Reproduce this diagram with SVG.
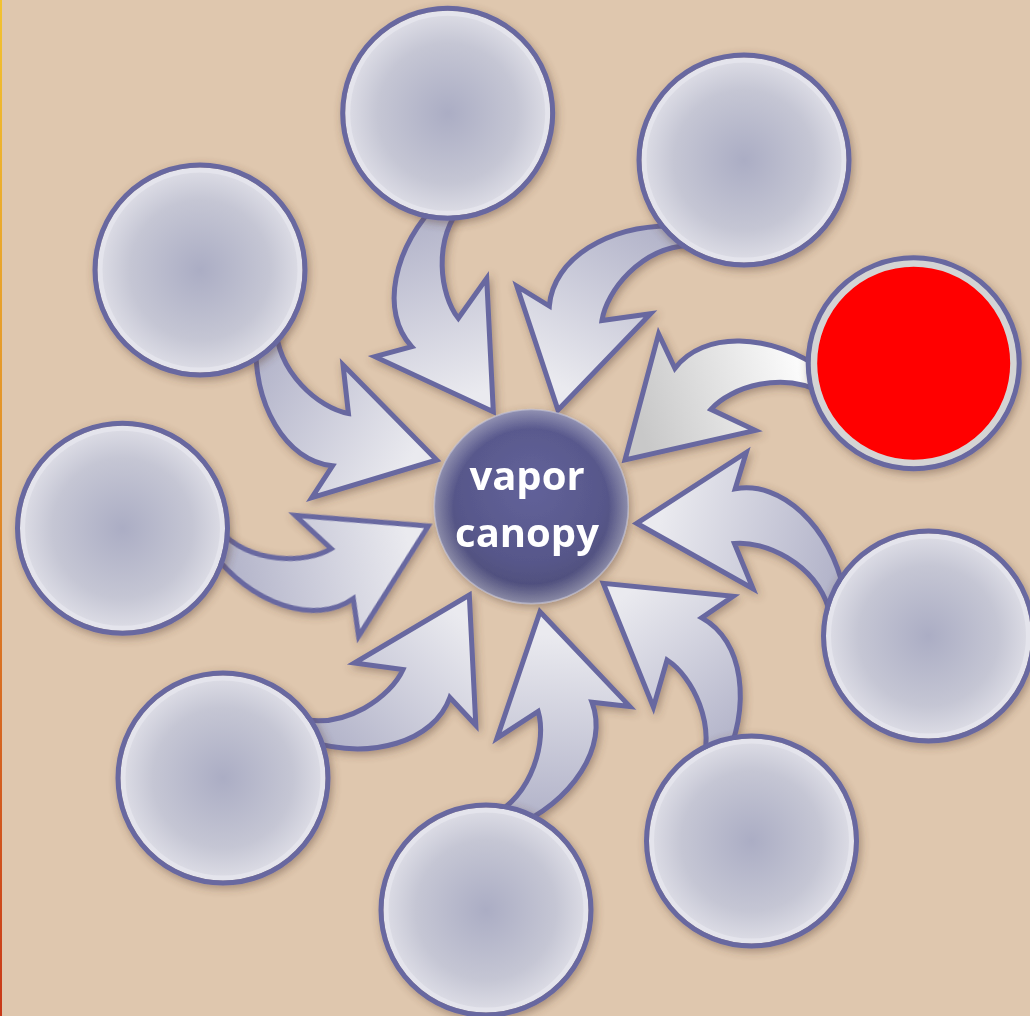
<svg xmlns="http://www.w3.org/2000/svg" width="1030" height="1016" viewBox="0 0 1030 1016">
<defs>
<style>
.arr{stroke:#6868a0;stroke-width:5;stroke-linejoin:miter;stroke-miterlimit:10}
.ring{fill:none;stroke:#6868a0;stroke-width:5}
.inner{stroke:#e4e4ec;stroke-width:5}
.lbl{font-family:"Open Sans","Liberation Sans",sans-serif;font-weight:bold;font-size:40px;fill:#ffffff;text-anchor:middle}
</style>
<linearGradient id="edge" x1="0" y1="0" x2="0" y2="1">
<stop offset="0" stop-color="#f2c230"/>
<stop offset="0.5" stop-color="#e08a28"/>
<stop offset="1" stop-color="#c83818"/>
</linearGradient>
<linearGradient id="ag" gradientUnits="userSpaceOnUse" x1="-85" y1="-190" x2="-25" y2="-15">
<stop offset="0" stop-color="#b2b3c9"/>
<stop offset="1" stop-color="#eaeaef"/>
</linearGradient>
<linearGradient id="agw" gradientUnits="userSpaceOnUse" x1="-60" y1="-200" x2="-40" y2="-20">
<stop offset="0" stop-color="#ffffff"/>
<stop offset="1" stop-color="#c8c8c8"/>
</linearGradient>
<radialGradient id="cg" cx="0.5" cy="0.5" r="0.5">
<stop offset="0" stop-color="#abadc4"/>
<stop offset="0.7" stop-color="#c5c6d4"/>
<stop offset="1" stop-color="#dcdce5"/>
</radialGradient>
<radialGradient id="sg" cx="0.5" cy="0.4" r="0.6">
<stop offset="0" stop-color="#62629a"/>
<stop offset="0.65" stop-color="#57578a"/>
<stop offset="1" stop-color="#4a4a74"/>
</radialGradient>
<radialGradient id="sgl" cx="0.5" cy="0.5" r="0.5">
<stop offset="0.8" stop-color="#ffffff" stop-opacity="0"/>
<stop offset="1" stop-color="#ffffff" stop-opacity="0.35"/>
</radialGradient>
<filter id="sh" x="-20%" y="-20%" width="140%" height="140%">
<feDropShadow dx="2" dy="3" stdDeviation="4" flood-color="#5a4030" flood-opacity="0.45"/>
</filter>
<path id="arrow" d="M-41.3,-239.7 L-52.3,-212.7 C-101.3,-163.7 -113.3,-99.7 -81.6,-65 L-118.3,-55 L0,0 L-6.6,-133.4 L-35,-93.4 C-53.3,-116.7 -61.3,-171.7 -30.3,-207.7 L-17.3,-233.7 Z"/>
</defs>
<rect width="1030" height="1016" fill="#dfc7ae"/>
<rect x="0" y="0" width="2" height="1016" fill="url(#edge)"/>
<g id="connectors" filter="url(#sh)">
<use href="#arrow" class="arr" fill="url(#ag)" transform="translate(436.7,460) rotate(-41.7)"/>
<use href="#arrow" class="arr" fill="url(#ag)" transform="translate(493.3,411.7)"/>
<use href="#arrow" class="arr" fill="url(#ag)" transform="translate(558,410) rotate(46.7)"/>
<use href="#arrow" class="arr" fill="url(#agw)" transform="translate(625,460) rotate(80)"/>
<use href="#arrow" class="arr" fill="url(#ag)" transform="translate(636.7,523.3) rotate(122.2)"/>
<use href="#arrow" class="arr" fill="url(#ag)" transform="translate(603.3,583.3) rotate(160.8)"/>
<use href="#arrow" class="arr" fill="url(#ag)" transform="translate(540,611.7) rotate(201.6)"/>
<use href="#arrow" class="arr" fill="url(#ag)" transform="translate(469.3,595) rotate(242.2)"/>
<use href="#arrow" class="arr" fill="url(#ag)" transform="translate(428.3,526) rotate(277.4)"/>
</g>
<g id="node-1" filter="url(#sh)"><circle cx="200" cy="270" r="100" fill="url(#cg)" class="inner"/><circle cx="200" cy="270" r="105" class="ring"/></g>
<g id="node-2" filter="url(#sh)"><circle cx="447.7" cy="113.3" r="100" fill="url(#cg)" class="inner"/><circle cx="447.7" cy="113.3" r="105" class="ring"/></g>
<g id="node-3" filter="url(#sh)"><circle cx="744" cy="160" r="100" fill="url(#cg)" class="inner"/><circle cx="744" cy="160" r="105" class="ring"/></g>
<g id="node-4" filter="url(#sh)"><circle cx="913.7" cy="363.3" r="100" fill="#ff0000" stroke="#d4d4d4" stroke-width="7"/><circle cx="913.7" cy="363.3" r="105.5" class="ring"/></g>
<g id="node-5" filter="url(#sh)"><circle cx="928.5" cy="636" r="100" fill="url(#cg)" class="inner"/><circle cx="928.5" cy="636" r="105" class="ring"/></g>
<g id="node-6" filter="url(#sh)"><circle cx="751.5" cy="841" r="100" fill="url(#cg)" class="inner"/><circle cx="751.5" cy="841" r="105" class="ring"/></g>
<g id="node-7" filter="url(#sh)"><circle cx="486" cy="910" r="100" fill="url(#cg)" class="inner"/><circle cx="486" cy="910" r="105" class="ring"/></g>
<g id="node-8" filter="url(#sh)"><circle cx="223" cy="778" r="100" fill="url(#cg)" class="inner"/><circle cx="223" cy="778" r="105" class="ring"/></g>
<g id="node-9" filter="url(#sh)"><circle cx="122.5" cy="528.3" r="100" fill="url(#cg)" class="inner"/><circle cx="122.5" cy="528.3" r="105" class="ring"/></g>
<g id="center" filter="url(#sh)">
<circle cx="531.3" cy="506.5" r="97" fill="url(#sg)"/>
<circle cx="531.3" cy="506.5" r="97" fill="url(#sgl)" stroke="#c8c8da" stroke-opacity="0.6" stroke-width="1.5"/>
<text class="lbl" x="527" y="490">vapor</text>
<text class="lbl" x="527" y="547">canopy</text>
</g>
</svg>
